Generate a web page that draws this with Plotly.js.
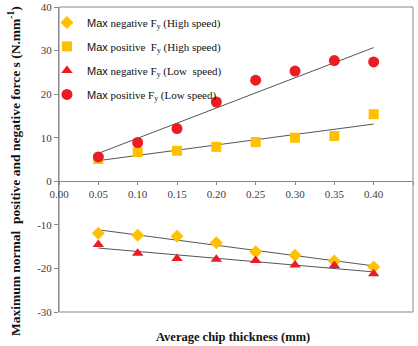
<!DOCTYPE html>
<html>
<head>
<meta charset="utf-8">
<script src="https://cdn.plot.ly/plotly-3.0.1.min.js"></script>
<style>html,body{margin:0;padding:0;background:#fff;}#chart{width:418px;height:346px;}</style>
</head>
<body>
<div id="chart"></div>
<script>
// Data
const chipThickness = [0.05, 0.10, 0.15, 0.20, 0.25, 0.30, 0.35, 0.40];
const maxNegHigh = [-11.9, -12.4, -12.6, -14.1, -16.2, -17.0, -18.3, -19.7];
const maxPosHigh = [5.1, 6.7, 7.0, 7.9, 9.0, 10.0, 10.4, 15.4];
const maxNegLow  = [-14.5, -16.5, -17.7, -17.9, -18.2, -19.2, -19.3, -21.2];
const maxPosLow  = [5.6, 8.9, 12.1, 18.2, 23.2, 25.3, 27.7, 27.4];
const seriesNames = [
  ['negative F', ' (High speed)'],
  ['positive  F', ' (High speed)'],
  ['negative F', ' (Low  speed)'],
  ['positive F', ' (Low speed)']
];
const xTickVals = [0.00, 0.05, 0.10, 0.15, 0.20, 0.25, 0.30, 0.35, 0.40, 0.45];
const yTickVals = [-30, -20, -10, 0, 10, 20, 30, 40];
const yTickText = ['-30', '-20', '-10', '0', '10', '20', '30', '40'];

function linFit(xs, ys) {
  const n = xs.length;
  const mx = xs.reduce((a, b) => a + b, 0) / n;
  const my = ys.reduce((a, b) => a + b, 0) / n;
  let sxy = 0, sxx = 0;
  for (let i = 0; i < n; i++) { sxy += (xs[i] - mx) * (ys[i] - my); sxx += (xs[i] - mx) ** 2; }
  const b = sxy / sxx, a = my - b * mx;
  return xs.map(x => a + b * x);
}

const SERIF = 'Liberation Serif';
const GOLD = '#FFC000', RED = '#EC1C24';
const series = [
  {y: maxNegHigh, sym: 'diamond', color: GOLD, size: 10},
  {y: maxPosHigh, sym: 'square', color: GOLD, size: 10},
  {y: maxNegLow, sym: 'triangle-up', color: RED, size: 10},
  {y: maxPosLow, sym: 'circle', color: RED, size: 11}
];

const traces = [];
series.forEach((s) => {
  traces.push({
    x: chipThickness, y: linFit(chipThickness, s.y), mode: 'lines', type: 'scatter',
    line: {color: '#555', width: 1}, showlegend: false, hoverinfo: 'skip'
  });
});
series.forEach((s, i) => {
  traces.push({
    x: chipThickness, y: s.y, mode: 'markers', type: 'scatter',
    name: '<span style="font-family:Liberation Sans">Max</span>' +
          '<span style="font-family:Liberation Serif"> ' + seriesNames[i][0] + '</span><sub>y</sub>' +
          '<span style="font-family:Liberation Serif">' + seriesNames[i][1] + '</span>',
    legendgroup: 'g' + i,
    marker: {symbol: s.sym, color: s.color, size: s.size}
  });
});

const tickFont = {family: SERIF, size: 11, color: '#404040'};
const layout = {
  width: 418, height: 346,
  margin: {l: 59, r: 5, t: 7, b: 34},
  paper_bgcolor: '#fff', plot_bgcolor: '#fff',
  showlegend: true,
  legend: {
    x: -0.034, y: 0.997, xanchor: 'left', yanchor: 'top',
    bgcolor: 'rgba(0,0,0,0)', tracegroupgap: 5,
    font: {family: SERIF, size: 11, color: '#111'}
  },
  xaxis: {
    range: [0, 0.45], anchor: 'free', position: 30 / 70,
    tickvals: xTickVals, tickformat: '.2f',
    showline: true, linecolor: '#888', linewidth: 1, ticks: 'outside', ticklen: 3, tickcolor: '#888',
    showgrid: false, zeroline: false, tickfont: tickFont
  },
  yaxis: {
    range: [-30, 40], tickvals: yTickVals, ticktext: yTickText,
    showline: true, linecolor: '#888', linewidth: 1,
    ticks: 'outside', ticklen: 4, tickcolor: '#888', showgrid: false, zeroline: false,
    tickfont: tickFont
  },
  shapes: [{
    type: 'rect', xref: 'paper', yref: 'paper', x0: 0, x1: 1, y0: 0, y1: 1,
    line: {color: '#888', width: 1}, fillcolor: 'rgba(0,0,0,0)', layer: 'below'
  }],
  annotations: [{
    text: 'Maximum normal  positive and negative force s (N.mm<sup>-1</sup>)',
    textangle: -90, xref: 'paper', yref: 'paper',
    x: -45 / 354, y: (312 - 171) / 305, xanchor: 'center', yanchor: 'middle',
    showarrow: false,
    font: {family: SERIF, size: 13.5, color: '#111', weight: 'bold'}
  }, {
    text: 'Average chip thickness (mm)',
    xref: 'paper', yref: 'paper',
    x: (233 - 59) / 354, y: (312 - 337) / 305, xanchor: 'center', yanchor: 'middle',
    showarrow: false,
    font: {family: SERIF, size: 12.5, color: '#111', weight: 'bold'}
  }]
};

Plotly.newPlot('chart', traces, layout, {displayModeBar: false, staticPlot: true});
</script>
</body>
</html>
